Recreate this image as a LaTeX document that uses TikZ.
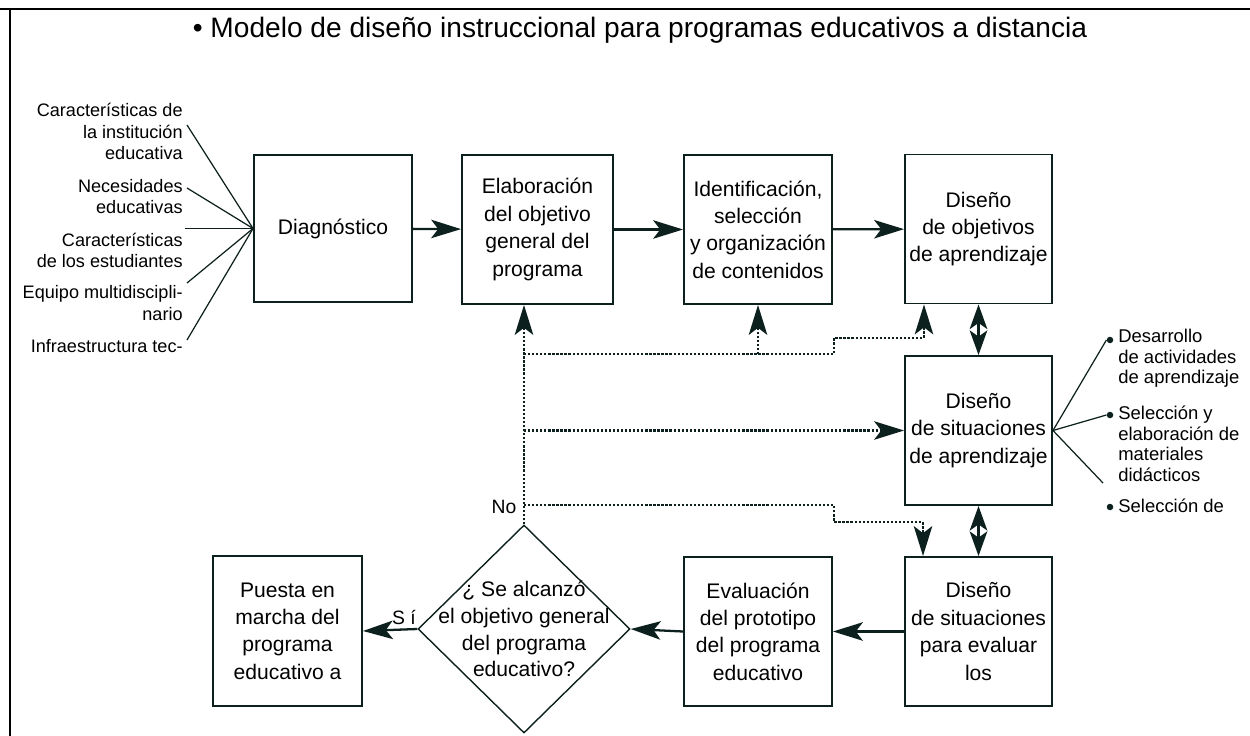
\documentclass[tikz,border=0pt]{standalone}
\usepackage{fontspec}
\setmainfont{Liberation Sans}
\usetikzlibrary{arrows.meta,shapes.geometric}
\definecolor{ink}{HTML}{0C211D}
\newdimen\pxu \pxu=0.02cm
\begin{document}
\begin{tikzpicture}[x=0.02cm,y=-0.02cm,
  box/.style={draw=ink,line width=1.1pt,align=center,inner sep=0pt,
    minimum width=148\pxu,minimum height=149\pxu,font=\fontsize{12}{15.6}\selectfont},
  side/.style={align=right,inner sep=0pt,font=\fontsize{10.3}{12}\selectfont},
  rside/.style={align=left,inner sep=0pt,anchor=west,font=\fontsize{10.5}{11.7}\selectfont},
  lbl/.style={inner sep=0pt,font=\fontsize{11}{13}\selectfont},
  tip/.style={Stealth[length=17pt,width=10.5pt,inset=4pt]},
  arr/.style={draw=ink,line width=1.3pt,-{Stealth[length=17pt,width=10.5pt,inset=4pt]}},
  darr/.style={draw=ink,line width=1.3pt,{Stealth[length=14pt,width=10pt,inset=3.5pt]}-{Stealth[length=14pt,width=10pt,inset=3.5pt]}},
  dotl/.style={draw=ink,line width=1.3pt,densely dotted},
  dot/.style={dotl,-{Stealth[length=17pt,width=10.5pt,inset=4pt]}},
  thin/.style={draw=ink,line width=0.7pt},
  bul/.style={circle,fill=ink,inner sep=0pt,minimum size=6.5\pxu}]
\useasboundingbox (0,0) rectangle (1250,736);
% frame
\draw[line width=1.6pt] (0,9) -- (1250,9);
\draw[line width=1.6pt] (10,9) -- (10,736);
% title
\node[font=\fontsize{16}{19}\selectfont] (title) at (640,30) {\textbullet\ Modelo de diseño instruccional para programas educativos a distancia};
% boxes
\node[box,minimum width=158\pxu,minimum height=147\pxu] (diag) at (333,228.5) {Diagnóstico};
\node[box,minimum width=151\pxu] (elab) at (537.5,229.5) {Elaboración\\del objetivo\\general del\\programa};
\node[box] (iden) at (758,229.5) {Identificación,\\selección\\y organización\\de contenidos};
\node[box,minimum width=147\pxu] (dobj) at (978.5,229) {Diseño\\de objetivos\\de aprendizaje};
\node[box,minimum width=147\pxu] (dsit) at (978.5,430.5) {Diseño\\de situaciones\\de aprendizaje};
\node[box,minimum width=147\pxu] (deval) at (978.5,631.5) {Diseño\\de situaciones\\para evaluar\\los};
\node[box] (evalp) at (758,631.5) {Evaluación\\del prototipo\\del programa\\educativo};
\node[box,minimum width=149\pxu,minimum height=150\pxu] (puesta) at (287.5,631) {Puesta en\\marcha del\\programa\\educativo a};
\node[diamond,draw=ink,line width=0.8pt,minimum width=212\pxu,minimum height=208\pxu,inner sep=0pt] (dec) at (524,629) {};
\node[align=center,inner sep=0pt,font=\fontsize{12}{15.2}\selectfont] (dectext) at (dec.center) {¿ Se alcanzó\\el objetivo general\\del programa\\educativo?};
% main arrows
\draw[arr] (diag) -- (elab);
\draw[arr] (elab) -- (iden);
\draw[arr] (iden) -- (dobj);
\draw[darr] (dobj) -- (dsit);
\draw[darr] (dsit) -- (deval);
\draw[arr] (deval) -- (evalp);
\draw[arr] (evalp.west) -- (dec.east);
\draw[arr] (dec.west) -- (puesta.east);
\node[lbl] (si) at (404,617) {S í};
\node[lbl] (no) at (504,507) {No};
% dotted feedback
\coordinate (j1) at (524,354);
\coordinate (j2) at (524,430.5);
\coordinate (j3) at (524,505);
\coordinate (k1) at (924,338);
\coordinate (k2) at (923,522);
\draw[dot] (dec.north) -- (dec.north |- elab.south);
\draw[dot] (j1) -- (834,354) -- (834,338) -- (k1) -- (k1 |- dobj.south);
\draw[dot] (iden.south |- j1) -- (iden.south);
\draw[dot] (j2) -- (dsit.west);
\draw[dot] (j3) -- (834,505) -- (834,522) -- (k2) -- (k2 |- deval.north);
% left inputs
\node[side,anchor=east] (in1) at (183,131.5) {Características de\\la institución\\educativa};
\node[side,anchor=east] (in2) at (183,196.5) {Necesidades\\educativas};
\node[side,anchor=east] (in3) at (183,250) {Características\\de los estudiantes};
\node[side,anchor=east] (in4) at (183,303) {Equipo multidiscipli-\\nario};
\node[side,anchor=east] (in5) at (183,346) {Infraestructura tec-};
\coordinate (e1) at (187,125);
\coordinate (e2) at (187,188);
\coordinate (e3) at (185,228.5);
\coordinate (e4) at (187,283);
\coordinate (e5) at (187,340);
\foreach \e in {e1,e2,e3,e4,e5} \draw[thin] (\e) -- (diag.west);
% right outputs
\node[bul] (b1) at (1110,340) {};
\node[bul] (b2) at (1110,415) {};
\node[bul] (b3) at (1110,507) {};
\node[rside] (o1) at (1118,358.5) {Desarrollo\\de actividades\\de aprendizaje};
\node[rside] (o2) at (1118,444) {Selección y\\elaboración de\\materiales\\didácticos};
\node[rside] (o3) at (1118,506) {Selección de};
\coordinate (r3) at (1103,483);
\draw[thin] (dsit.east) -- (b1.west);
\draw[thin] (dsit.east) -- (b2.west);
\draw[thin] (dsit.east) -- (r3);
\end{tikzpicture}
\end{document}
